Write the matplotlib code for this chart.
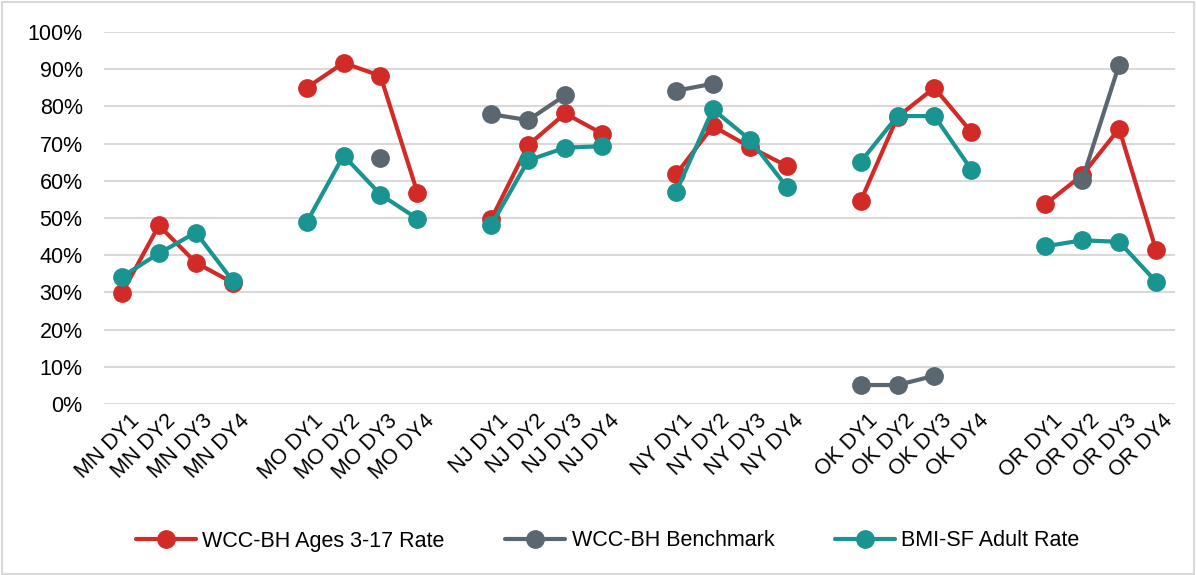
import numpy as np
import matplotlib.pyplot as plt
from matplotlib.patches import Rectangle
from matplotlib.ticker import PercentFormatter, MultipleLocator
import matplotlib.transforms as mtransforms

plt.rcParams['font.family'] = ['Liberation Sans', 'DejaVu Sans']

states = ["MN", "MO", "NJ", "NY", "OK", "OR"]
years = ["DY1", "DY2", "DY3", "DY4"]
nan = np.nan

# rates per state, DY1..DY4 (percent)
wcc_rate = [
    [29.8, 48.0, 38.0, 32.6],
    [85.0, 91.7, 88.2, 56.8],
    [49.7, 69.6, 78.1, 72.7],
    [61.7, 74.7, 69.1, 64.0],
    [54.5, 77.2, 85.0, 73.1],
    [53.7, 61.5, 74.0, 41.4],
]
wcc_bench = [
    [nan, nan, nan, nan],
    [nan, nan, 66.1, nan],
    [77.9, 76.3, 83.0, nan],
    [84.2, 86.1, nan, nan],
    [5.1, 5.1, 7.6, nan],
    [nan, 60.2, 91.2, nan],
]
bmi_rate = [
    [34.2, 40.5, 46.1, 33.1],
    [48.8, 66.8, 56.3, 49.8],
    [48.1, 65.5, 68.9, 69.3],
    [56.9, 79.2, 71.1, 58.4],
    [65.1, 77.4, 77.4, 63.0],
    [42.4, 44.0, 43.6, 32.9],
]

series = [
    ("WCC-BH Ages 3-17 Rate", wcc_rate, "#D22B27"),
    ("WCC-BH Benchmark", wcc_bench, "#5B6770"),
    ("BMI-SF Adult Rate", bmi_rate, "#1A9490"),
]

# build the category axis with a blank slot between states
labels = []
for i, st in enumerate(states):
    labels += [f"{st} {y}" for y in years]
    if i < len(states) - 1:
        labels.append("")


def flatten(rows):
    out = []
    for i, r in enumerate(rows):
        out += r
        if i < len(rows) - 1:
            out.append(nan)
    return np.array(out) / 100.0


x = np.arange(len(labels))
fs = 15.5

fig = plt.figure(figsize=(11.96, 5.75), dpi=100)
ax = fig.add_axes([103.5 / 1196, 1 - 404 / 575, 1071 / 1196, 372 / 575])

for name, rows, color in series:
    ax.plot(x, flatten(rows), color=color, lw=3, marker='o', ms=12.5,
            label=name, solid_capstyle='round', zorder=3)

ax.set_xlim(-0.5, len(labels) - 0.5)
ax.set_ylim(0, 1)
ax.yaxis.set_major_locator(MultipleLocator(0.1))
ax.yaxis.set_major_formatter(PercentFormatter(1.0, decimals=0))
ax.grid(axis='y', color='#D9D9D9', lw=1.5, zorder=0)
ax.set_axisbelow(True)
for s in ax.spines.values():
    s.set_visible(False)
ax.tick_params(axis='both', length=0, labelsize=fs, colors='black')
ax.tick_params(axis='y', pad=15)

ax.set_xticks(x)
ax.set_xticklabels(labels, rotation=45, ha='right', va='center',
                   rotation_mode='anchor')
shift = mtransforms.ScaledTranslation(14 / 100, -9 / 100, fig.dpi_scale_trans)
for lbl in ax.get_xticklabels():
    lbl.set_transform(lbl.get_transform() + shift)

fig.legend(loc='center', bbox_to_anchor=(0.508, 1 - 541 / 575), ncol=3,
           frameon=False, fontsize=fs, handlelength=2.8, handletextpad=0.3,
           columnspacing=2.8)

# light frame around the whole chart
fig.patches.append(Rectangle((0.002, 0.002), 0.996, 0.994, transform=fig.transFigure,
                             fill=False, edgecolor='#D9D9D9', lw=1.5))

fig.savefig("out.png", dpi=100)
